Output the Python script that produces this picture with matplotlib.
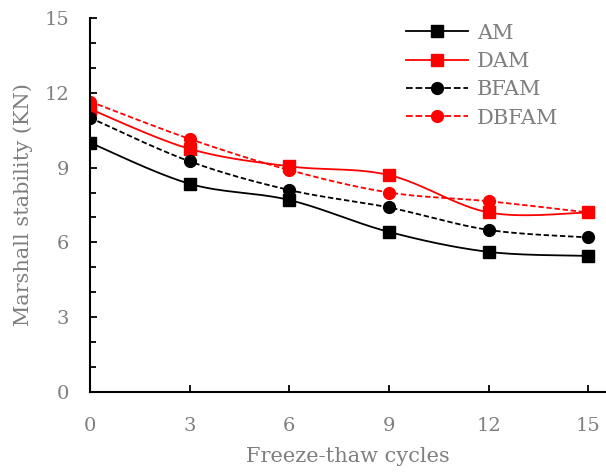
import numpy as np
import matplotlib.pyplot as plt
from matplotlib.ticker import MultipleLocator

cycles = [0, 3, 6, 9, 12, 15]
am = [10.0, 8.35, 7.7, 6.42, 5.62, 5.46]
dam = [11.35, 9.75, 9.05, 8.7, 7.2, 7.2]
bfam = [11.0, 9.25, 8.1, 7.4, 6.5, 6.2]
dbfam = [11.65, 10.15, 8.9, 8.0, 7.65, 7.2]


def smooth(x, y, n=30):
    # Catmull-Rom style curve through the points, like a spreadsheet "smoothed line"
    x = np.asarray(x, float)
    y = np.asarray(y, float)
    px = np.concatenate([[x[0]], x, [x[-1]]])
    py = np.concatenate([[y[0]], y, [y[-1]]])
    xs, ys = [], []
    for i in range(1, len(px) - 2):
        p0, p1, p2, p3 = (np.array([px[j], py[j]]) for j in range(i - 1, i + 3))
        c1 = p1 + (p2 - p0) / 6
        c2 = p2 - (p3 - p1) / 6
        t = np.linspace(0, 1, n)[:, None]
        b = (1 - t) ** 3 * p1 + 3 * (1 - t) ** 2 * t * c1 + 3 * (1 - t) * t ** 2 * c2 + t ** 3 * p2
        xs.append(b[:, 0])
        ys.append(b[:, 1])
    return np.concatenate(xs), np.concatenate(ys)


plt.rcParams['font.family'] = ['DejaVu Serif']
grey = '#7f7f7f'

fig = plt.figure(figsize=(6.06, 4.72), dpi=100)
ax = fig.add_axes([90 / 606, 1 - 392 / 472, 515 / 606, 374 / 472])

series = [
    ('AM', am, 'black', '-', 's'),
    ('DAM', dam, 'red', '-', 's'),
    ('BFAM', bfam, 'black', '--', 'o'),
    ('DBFAM', dbfam, 'red', '--', 'o'),
]
for name, vals, col, ls, mk in series:
    sx, sy = smooth(cycles, vals)
    ax.plot(sx, sy, color=col, ls=ls, lw=1.3, dashes=(3, 1.5) if ls == '--' else (None, None))
    ax.plot(cycles, vals, ls='none', marker=mk, color=col, ms=8.5)
    ax.plot([], [], color=col, ls=ls, lw=1.3, marker=mk, ms=8.5, label=name)

ax.set_xlim(0, 15.5)
ax.set_ylim(0, 15)
ax.xaxis.set_major_locator(MultipleLocator(3))
ax.yaxis.set_major_locator(MultipleLocator(3))
ax.yaxis.set_minor_locator(MultipleLocator(1))
ax.tick_params(direction='in', length=5, width=1.3, colors='black', labelcolor=grey,
               labelsize=14)
ax.tick_params(axis='y', which='minor', direction='in', length=4, width=1.3)
ax.tick_params(axis='y', pad=15)
ax.tick_params(axis='x', pad=18)
for s in ['top', 'right']:
    ax.spines[s].set_visible(False)
for s in ['left', 'bottom']:
    ax.spines[s].set_linewidth(1.5)

ax.set_xlabel('Freeze-thaw cycles', color=grey, fontsize=15, labelpad=9)
ax.set_ylabel('Marshall stability (KN)', color=grey, fontsize=15, labelpad=8)

leg = ax.legend(loc='upper right', bbox_to_anchor=(0.945, 1.035),
                frameon=False, fontsize=15, handlelength=3.0, labelspacing=0.45,
                handletextpad=0.4)
for t in leg.get_texts():
    t.set_color(grey)

fig.savefig('out.png', dpi=100)
